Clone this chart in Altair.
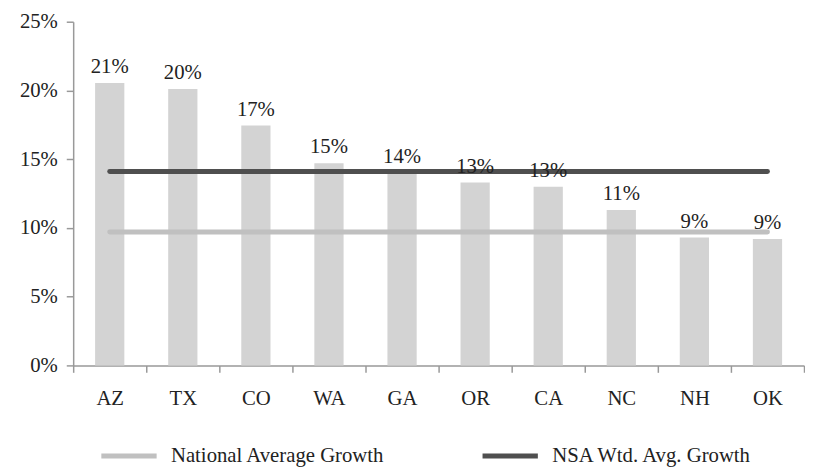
import altair as alt
import pandas as pd

states = ["AZ", "TX", "CO", "WA", "GA", "OR", "CA", "NC", "NH", "OK"]
growth = [0.2055, 0.201, 0.1746, 0.147, 0.140, 0.133, 0.130, 0.113, 0.093, 0.092]
series_names = ["National Average Growth", "NSA Wtd. Avg. Growth"]
series_values = [0.097, 0.141]
series_colors = ["#c0c0c0", "#4f4f4f"]

FONT = "Liberation Serif"
FS = 21

bars_df = pd.DataFrame({"state": states, "growth": growth})
lines_df = pd.DataFrame(
    [{"state": s, "series": n, "value": v} for n, v in zip(series_names, series_values) for s in states]
)

x_enc = alt.X(
    "state:N",
    sort=states,
    scale=alt.Scale(paddingInner=0, paddingOuter=0),
    axis=alt.Axis(
        title=None, labelAngle=0, tickBand="extent", tickSize=7, labelPadding=16,
        labelFont=FONT, labelFontSize=FS, labelColor="#222", domainColor="#999", tickColor="#999",
        domainWidth=1.5, tickWidth=1.5,
    ),
)
y_scale = alt.Scale(domain=[0, 0.25])
y_axis = alt.Axis(
    title=None, values=[0, 0.05, 0.10, 0.15, 0.20, 0.25], format=".0%", grid=False,
    tickSize=7, labelPadding=9, labelFont=FONT, labelFontSize=FS, labelColor="#222",
    domainColor="#999", tickColor="#999", domainWidth=1.5, tickWidth=1.5,
)

bars = alt.Chart(bars_df).mark_bar(color="#d3d3d3", width=alt.RelativeBandSize(0.4)).encode(
    x=x_enc,
    y=alt.Y("growth:Q", scale=y_scale, axis=y_axis),
)

labels = alt.Chart(bars_df).mark_text(
    baseline="bottom", dy=-6, font=FONT, fontSize=FS, color="#222"
).encode(
    x=alt.X("state:N", sort=states),
    y=alt.Y("growth:Q", scale=y_scale),
    text=alt.Text("growth:Q", format=".0%"),
)

lines = alt.Chart(lines_df).mark_line(strokeWidth=5, strokeCap="round").encode(
    x=alt.X("state:N", sort=states),
    y=alt.Y("value:Q", scale=y_scale),
    color=alt.Color(
        "series:N",
        scale=alt.Scale(domain=series_names, range=series_colors),
        legend=alt.Legend(
            title=None, orient="none", direction="horizontal", legendX=26, legendY=409,
            symbolType="stroke", symbolSize=3136, symbolStrokeWidth=5, labelFont=FONT,
            labelFontSize=FS, labelColor="#222", labelOffset=12, columnPadding=88,
            padding=0, labelLimit=400,
        ),
    ),
    detail="series:N",
)

chart = alt.layer(bars, lines, labels).properties(
    width=740, height=348, padding={"left": 11, "top": 0, "right": 0, "bottom": 0}
).configure(background="white").configure_view(stroke=None)

chart.save("out.html", embed_options={"renderer": "svg", "actions": False})
